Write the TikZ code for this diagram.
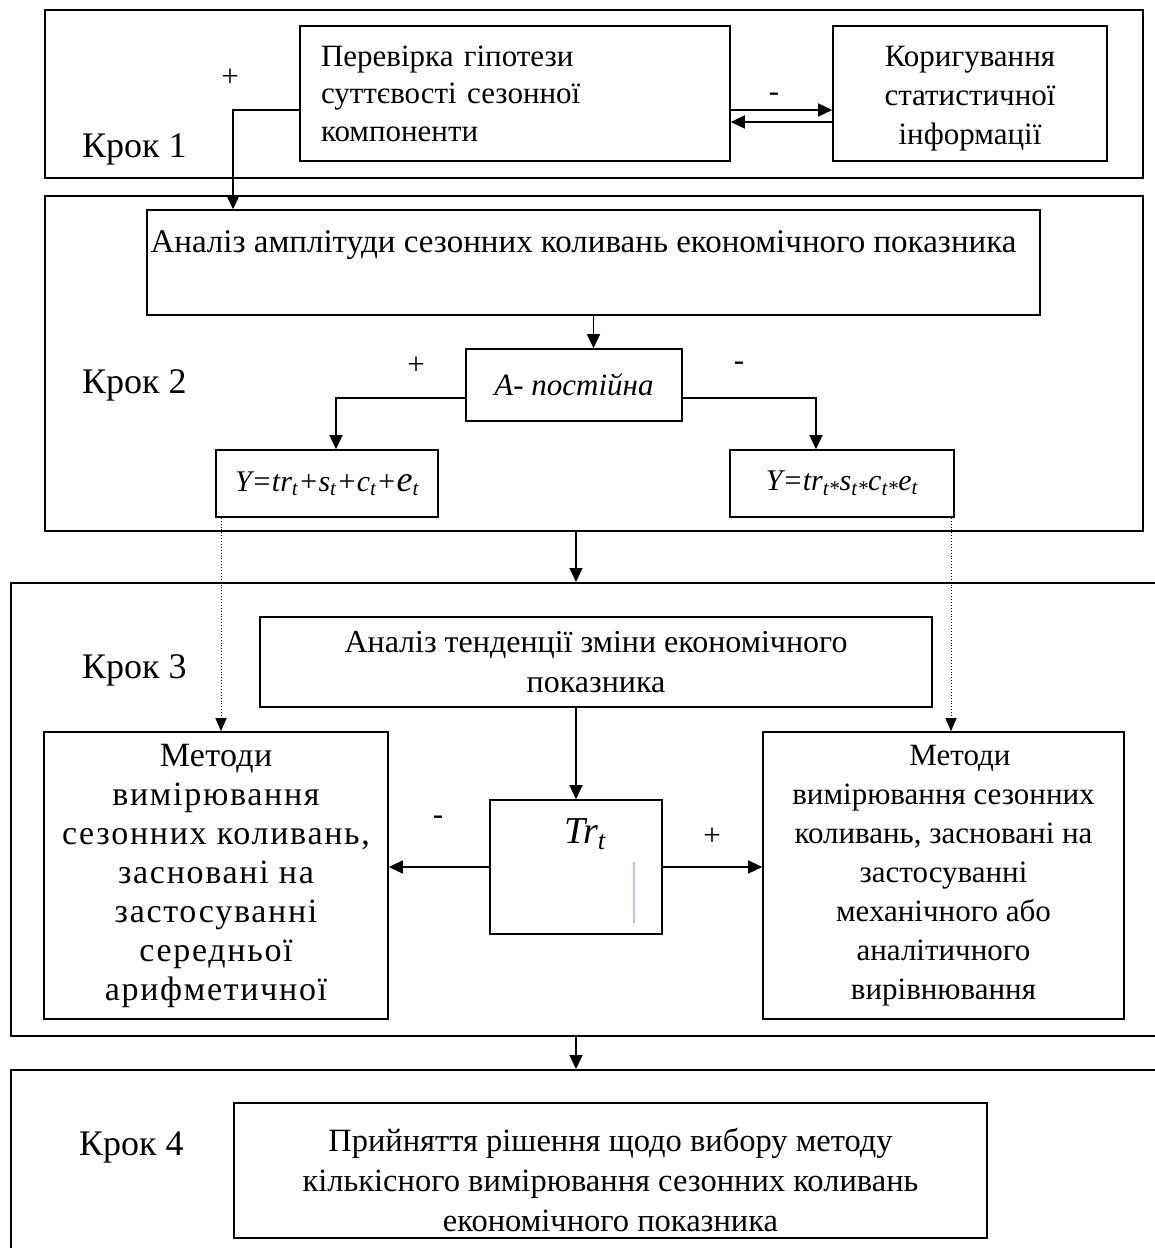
\documentclass[tikz,border=0pt]{standalone}
\usepackage{fontspec}
\setmainfont{Liberation Serif}
\usetikzlibrary{arrows.meta,calc}
\newcommand{\bodyfont}{\fontsize{31}{37.5}\selectfont}
\newcommand{\methfont}{\fontsize{31}{39}\selectfont}
\newcommand{\krokfont}{\fontsize{36}{40}\selectfont}
\newcommand{\formfont}{\fontsize{30}{32}\selectfont\itshape}
\tikzset{
  frame/.style={draw, line width=1.6pt, inner sep=0pt, anchor=north west},
  box/.style={draw, line width=1.6pt, inner sep=0pt, align=center, font=\bodyfont},
  inlbl/.style={anchor=center, align=center, inner sep=0pt},
  arr/.style={line width=1.4pt, -{Triangle[length=14pt,width=13pt]}},
  dotarr/.style={line width=0.9pt, dotted, -{Triangle[length=13pt,width=11pt]}},
  sign/.style={font=\bodyfont, inner sep=0pt},
  kroklbl/.style={font=\krokfont, inner sep=0pt, anchor=base west},
  cursorline/.style={draw=blue!25, line width=1.5pt}
}
\begin{document}
\begin{tikzpicture}[x=1pt,y=-1pt]
\useasboundingbox (0,0) rectangle (1155,1248);
% frames
\node[frame, minimum width=1098pt, minimum height=168pt] (f1) at (44,9) {};
\node[frame, minimum width=1098pt, minimum height=335pt] (f2) at (44,195) {};
\node[frame, minimum width=1180pt, minimum height=453pt] (f3) at (10,582) {};
\node[frame, minimum width=1180pt, minimum height=220pt] (f4) at (10,1069) {};
% step labels
\node[kroklbl] (s1) at (82,157) {Крок 1};
\node[kroklbl] (s2) at (82,393) {Крок 2};
\node[kroklbl] (s3) at (82,678) {Крок 3};
\node[kroklbl] (s4) at (79,1155) {Крок 4};
% step 1
\node[box, minimum width=430pt, minimum height=135pt, text width=388pt, align=left] (b1) at (515,93.5)
  {Перевірка гіпотези\\суттєвості сезонної\\компоненти};
\node[box, minimum width=274pt, minimum height=135pt,
  label={[inlbl, font=\fontsize{31}{39}\selectfont, yshift=-5pt]center:{Коригування\\статистичної\\інформації}}] (b2) at (970,93.5) {};
\draw[arr] ([yshift=-16.5pt]b1.east) -- ([yshift=-16.5pt]b2.west);
\draw[arr] ([yshift=-28.5pt]b2.west) -- ([yshift=-28.5pt]b1.east);
\node[sign] (m1) at (774,97) {-};
\node[sign] (p1) at (230,78) {+};
% step 2
\node[box, minimum width=893pt, minimum height=105pt,
  label={[inlbl, font=\fontsize{33}{37.5}\selectfont, xshift=-10pt, yshift=17pt]center:{Аналіз амплітуди сезонних коливань економічного показника}}] (a1) at (593.5,262.5) {};
\coordinate (c1) at (233,110);
\draw[arr] (b1.west |- c1) -- (c1) -- (c1 |- a1.north);
\node[box, minimum width=216pt, minimum height=72pt, font=\fontsize{31}{36}\selectfont\itshape] (ap) at (574,385) {A- постійна};
\draw[arr] (a1.south) -- (a1.south |- ap.north);
\node[box, minimum width=222pt, minimum height=67pt, font=\formfont] (yl) at (327,483.5)
  {Y=tr\textsubscript{t}+s\textsubscript{t}+c\textsubscript{t}+{\fontsize{36}{38}\selectfont e}\textsubscript{t}};
\node[box, minimum width=224pt, minimum height=67pt, font=\formfont] (yr) at (842,483.5)
  {Y=tr\textsubscript{t*}s\textsubscript{t*}c\textsubscript{t*}e\textsubscript{t}};
\coordinate (cl) at (336,398);
\coordinate (cr) at (816,398);
\draw[arr] (ap.west |- cl) -- (cl) -- (cl |- yl.north);
\draw[arr] (ap.east |- cr) -- (cr) -- (cr |- yr.north);
\node[sign] (p2) at (416,366) {+};
\node[sign] (m2) at (739,366) {-};
% step 3
\node[box, minimum width=672pt, minimum height=90pt, font=\fontsize{32}{40}\selectfont] (tend) at (596,662)
  {Аналіз тенденції зміни економічного\\показника};
\node[box, minimum width=172pt, minimum height=134pt,
  label={[inlbl, font=\fontsize{38}{40}\selectfont\itshape, xshift=9pt, yshift=-35pt]north:{Tr\textsubscript{t}}}] (tr) at (576,867) {};
\draw[cursorline] ([xshift=58pt,yshift=-63pt]tr.north) -- ++(0,61);
\draw[arr] (tend.south -| tr.north) -- (tr.north);
\node[box, minimum width=344pt, minimum height=287pt, font=\fontsize{34}{39}\selectfont\addfontfeature{LetterSpace=5}] (ml) at (216,875.5)
  {{\addfontfeature{LetterSpace=1}Методи}\\вимірювання\\сезонних коливань,\\засновані на\\застосуванні\\середньої\\арифметичної};
\node[box, minimum width=361pt, minimum height=287pt, font=\methfont] (mr) at (943.5,875.5)
  {\hspace*{33pt}Методи\\вимірювання сезонних\\коливань, засновані на\\застосуванні\\механічного або\\аналітичного\\вирівнювання};
\draw[arr] (tr.west) -- (tr.west -| ml.east);
\draw[arr] (tr.east) -- (tr.east -| mr.west);
\node[sign] (m3) at (438,820) {-};
\node[sign] (p3) at (712,837) {+};
\coordinate (dl) at (221,0);
\coordinate (dr) at (951,0);
\draw[dotarr] (yl.south -| dl) -- (ml.north -| dl);
\draw[dotarr] (yr.south -| dr) -- (mr.north -| dr);
\draw[arr] (f2.south -| tr.north) -- (f3.north -| tr.north);
% step 4
\node[box, minimum width=753pt, minimum height=135pt,
  label={[inlbl, font=\fontsize{32.5}{40}\selectfont, yshift=-10pt]center:{Прийняття рішення щодо вибору методу\\кількісного вимірювання сезонних коливань\\економічного показника}}] (dec) at (610.5,1170.5) {};
\draw[arr] (f3.south -| tr.north) -- (f4.north -| tr.north);
\end{tikzpicture}
\end{document}
